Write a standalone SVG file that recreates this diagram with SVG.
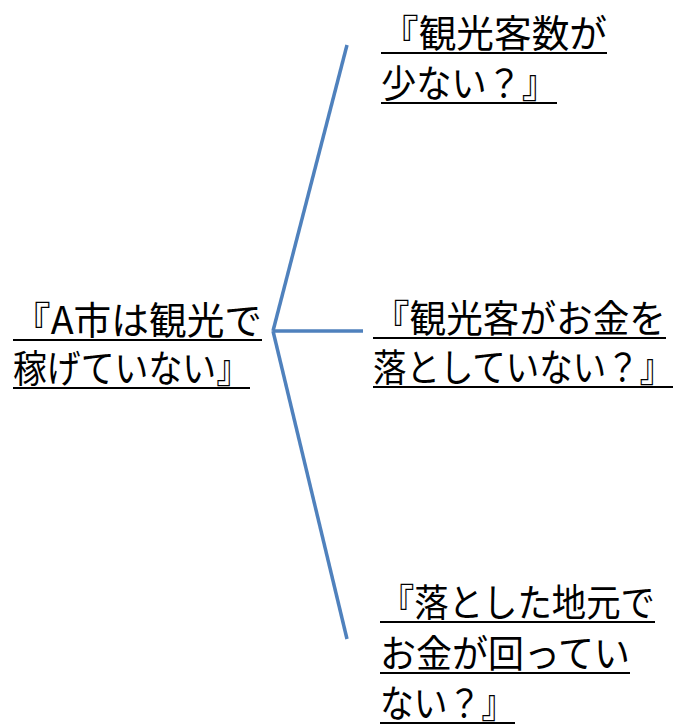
<svg xmlns="http://www.w3.org/2000/svg" width="679" height="724" viewBox="0 0 679 724">
<style>
.t{font-family:"Noto Sans CJK JP","Noto Sans",sans-serif;font-size:38px;fill:#000}
.u{stroke:#000;stroke-width:2}
.c{stroke:#4f81bd;stroke-width:3.5;fill:none;stroke-linecap:butt}
</style>
<rect width="679" height="724" fill="#fff"/>
<g id="connectors">
<line class="c" x1="273" y1="331" x2="347" y2="45"/>
<line class="c" x1="273" y1="331" x2="363" y2="331"/>
<line class="c" x1="273" y1="331" x2="347" y2="639"/>
</g>
<g id="root">
<text class="t" x="13" y="334" textLength="249" lengthAdjust="spacingAndGlyphs">『A市は観光で</text>
<text class="t" x="13" y="382" textLength="237" lengthAdjust="spacingAndGlyphs">稼げていない』</text>
<line class="u" x1="13" y1="340" x2="262" y2="340"/>
<line class="u" x1="13" y1="388" x2="250" y2="388"/>
</g>
<g id="node1">
<text class="t" x="381" y="47" textLength="226" lengthAdjust="spacingAndGlyphs">『観光客数が</text>
<text class="t" x="381" y="97" textLength="176" lengthAdjust="spacingAndGlyphs">少ない？』</text>
<line class="u" x1="381" y1="53" x2="607" y2="53"/>
<line class="u" x1="381" y1="103" x2="557" y2="103"/>
</g>
<g id="node2">
<text class="t" x="373" y="332" textLength="293" lengthAdjust="spacingAndGlyphs">『観光客がお金を</text>
<text class="t" x="373" y="381" textLength="300" lengthAdjust="spacingAndGlyphs">落としていない？』</text>
<line class="u" x1="373" y1="338" x2="666" y2="338"/>
<line class="u" x1="373" y1="387" x2="673" y2="387"/>
</g>
<g id="node3">
<text class="t" x="380" y="616" textLength="275" lengthAdjust="spacingAndGlyphs">『落とした地元で</text>
<text class="t" x="380" y="667" textLength="250" lengthAdjust="spacingAndGlyphs">お金が回ってい</text>
<text class="t" x="380" y="717" textLength="135" lengthAdjust="spacingAndGlyphs">ない？』</text>
<line class="u" x1="380" y1="622" x2="655" y2="622"/>
<line class="u" x1="380" y1="673" x2="630" y2="673"/>
<line class="u" x1="380" y1="723" x2="515" y2="723"/>
</g>
</svg>
